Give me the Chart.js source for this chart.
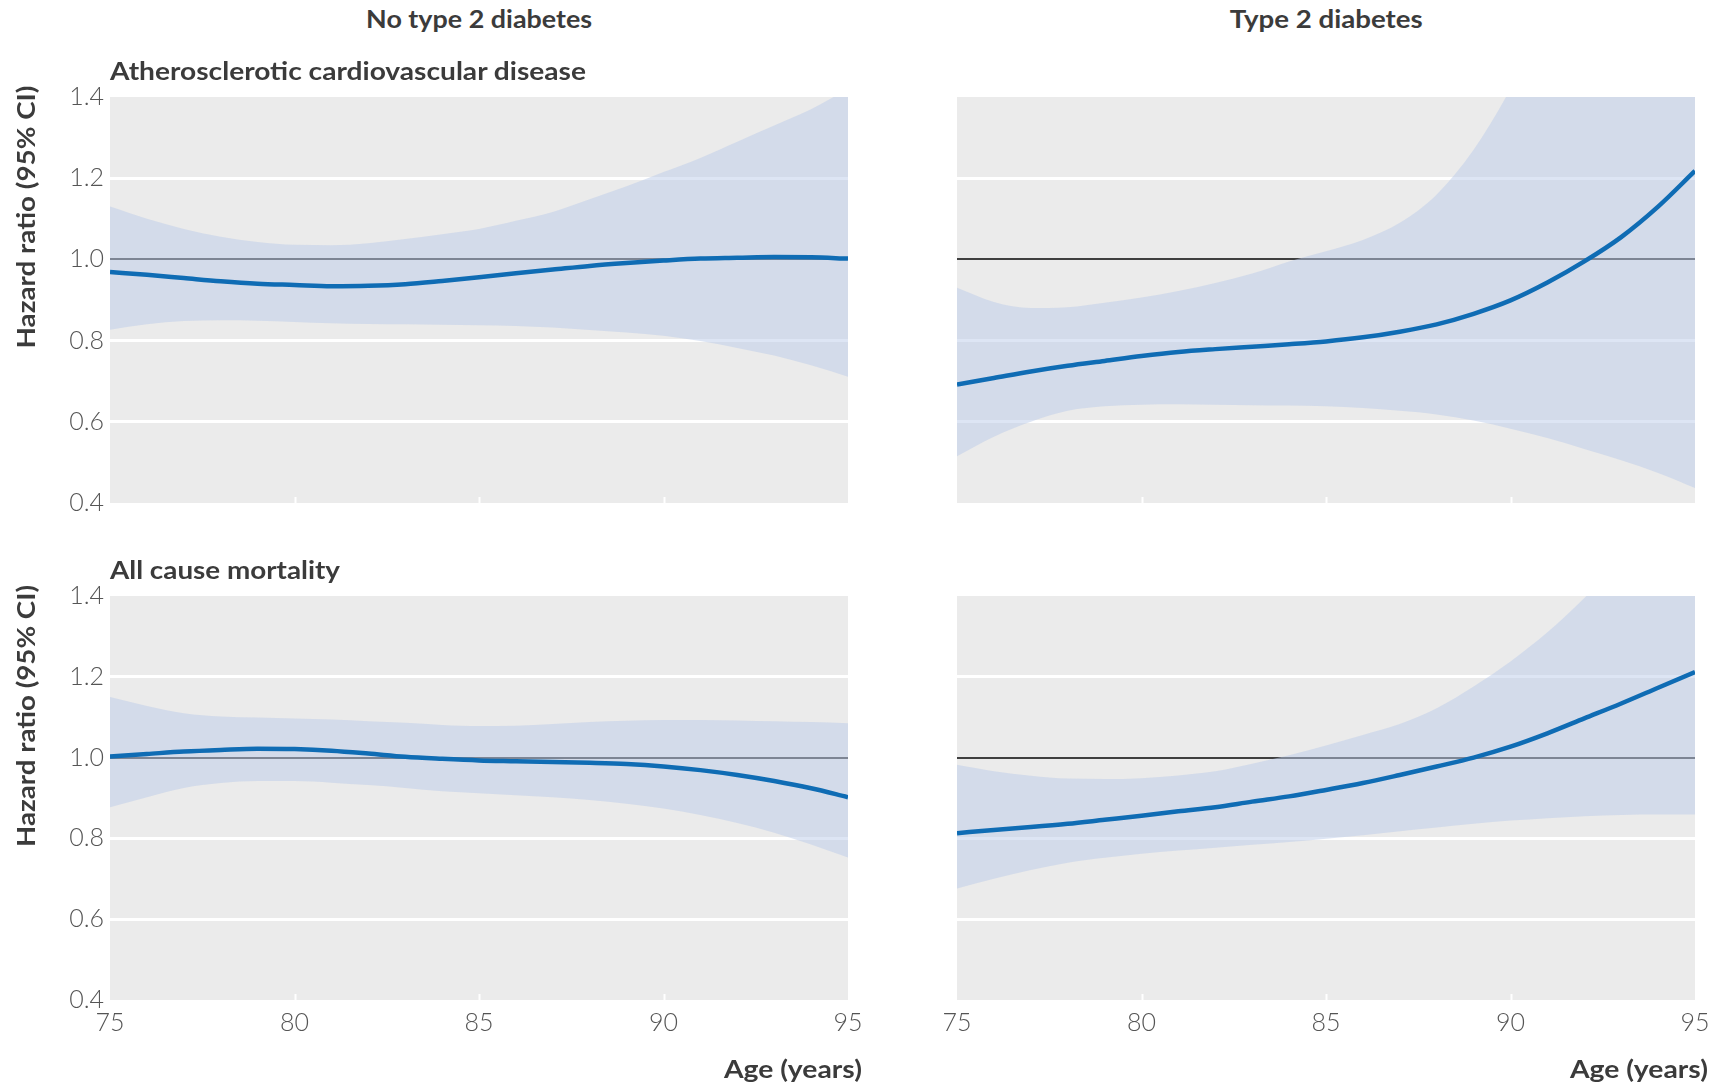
<!DOCTYPE html>
<html>
<head>
<meta charset="utf-8">
<title>Hazard ratio by age</title>
<script src="https://cdn.jsdelivr.net/npm/chart.js@4.4.1/dist/chart.umd.min.js"></script>
<style>
  html, body { margin: 0; padding: 0; background: #fff; width: 1719px; height: 1085px; overflow: hidden; }
  canvas { position: absolute; }
  .lbl { position: absolute; white-space: nowrap; font-family: Lato, "Open Sans", sans-serif; color: #3b3b3b; font-weight: 700; line-height: 1; }
</style>
</head>
<body>
<script>
// Age grid (years)
const ages = [75, 76, 77, 78, 79, 80, 81, 82, 83, 84, 85, 86, 87, 88, 89, 90, 91, 92, 93, 94, 95];

// Atherosclerotic cardiovascular disease, no type 2 diabetes
const ascvdNoT2dHR = [0.969, 0.962, 0.954, 0.946, 0.940, 0.937, 0.934, 0.935, 0.939, 0.947, 0.956, 0.966, 0.975, 0.984, 0.991, 0.997, 1.002, 1.004, 1.006, 1.005, 1.002];
const ascvdNoT2dLo = [0.827, 0.840, 0.848, 0.850, 0.849, 0.846, 0.843, 0.841, 0.840, 0.839, 0.838, 0.836, 0.832, 0.826, 0.820, 0.812, 0.799, 0.782, 0.763, 0.739, 0.711];
const ascvdNoT2dHi = [1.130, 1.100, 1.075, 1.056, 1.043, 1.036, 1.035, 1.040, 1.050, 1.062, 1.075, 1.095, 1.117, 1.148, 1.180, 1.215, 1.250, 1.290, 1.330, 1.370, 1.420];

// Atherosclerotic cardiovascular disease, type 2 diabetes
const ascvdT2dHR = [0.692, 0.708, 0.724, 0.738, 0.750, 0.762, 0.772, 0.779, 0.785, 0.791, 0.798, 0.808, 0.822, 0.840, 0.866, 0.899, 0.943, 0.995, 1.055, 1.130, 1.218];
const ascvdT2dLo = [0.515, 0.563, 0.600, 0.627, 0.638, 0.642, 0.643, 0.642, 0.641, 0.640, 0.638, 0.634, 0.627, 0.618, 0.603, 0.583, 0.560, 0.533, 0.505, 0.474, 0.437];
const ascvdT2dHi = [0.930, 0.895, 0.880, 0.882, 0.893, 0.906, 0.922, 0.942, 0.965, 0.995, 1.020, 1.048, 1.090, 1.160, 1.270, 1.420, 1.600, 1.800, 2.000, 2.200, 2.400];

// All cause mortality, no type 2 diabetes
const mortNoT2dHR = [1.003, 1.009, 1.015, 1.019, 1.022, 1.021, 1.017, 1.010, 1.002, 0.997, 0.993, 0.991, 0.989, 0.987, 0.984, 0.978, 0.969, 0.957, 0.942, 0.924, 0.902];
const mortNoT2dLo = [0.877, 0.902, 0.925, 0.937, 0.942, 0.942, 0.938, 0.932, 0.925, 0.917, 0.912, 0.907, 0.902, 0.895, 0.886, 0.874, 0.858, 0.838, 0.814, 0.785, 0.753];
const mortNoT2dHi = [1.150, 1.128, 1.110, 1.102, 1.099, 1.097, 1.094, 1.090, 1.086, 1.081, 1.078, 1.079, 1.083, 1.088, 1.091, 1.093, 1.093, 1.092, 1.090, 1.088, 1.085];

// All cause mortality, type 2 diabetes
const mortT2dHR = [0.813, 0.821, 0.828, 0.836, 0.846, 0.856, 0.867, 0.877, 0.891, 0.904, 0.920, 0.937, 0.957, 0.978, 1.000, 1.027, 1.060, 1.097, 1.134, 1.173, 1.212];
const mortT2dLo = [0.676, 0.700, 0.722, 0.740, 0.752, 0.762, 0.770, 0.777, 0.784, 0.791, 0.799, 0.808, 0.818, 0.827, 0.836, 0.844, 0.850, 0.855, 0.858, 0.859, 0.859];
const mortT2dHi = [0.982, 0.966, 0.955, 0.948, 0.947, 0.949, 0.956, 0.966, 0.985, 1.006, 1.030, 1.056, 1.083, 1.122, 1.176, 1.238, 1.310, 1.395, 1.490, 1.590, 1.700];

// Axis tick values
const xTickValues = [75, 80, 85, 90, 95];
const yTickValues = [0.4, 0.6, 0.8, 1.0, 1.2, 1.4];

// Styling
const PANEL_BG = '#ebebeb';
const BAND = 'rgba(188, 204, 234, 0.5)';
const LINE = '#0f6cb4';
const REF_LINE = '#3f3f3f';
const TICK_COLOR = '#555555';
const PANEL_W = 738;

const panelPlugin = {
  id: 'panelStyle',
  beforeDraw(chart) {
    const a = chart.chartArea, ctx = chart.ctx;
    ctx.save();
    ctx.fillStyle = PANEL_BG;
    ctx.fillRect(a.left, a.top, a.right - a.left, a.bottom - a.top);
    ctx.restore();
  },
  afterDatasetsDraw(chart) {
    const a = chart.chartArea, ctx = chart.ctx, xs = chart.scales.x;
    ctx.save();
    ctx.strokeStyle = '#ffffff';
    ctx.lineWidth = 2;
    xTickValues.slice(1, -1).forEach(v => {
      const px = Math.round(xs.getPixelForValue(v)) + 0.5;
      ctx.beginPath();
      ctx.moveTo(px, a.bottom - 6);
      ctx.lineTo(px, a.bottom);
      ctx.stroke();
    });
    ctx.restore();
  }
};

function makePanel(p) {
  const padTop = 40, yw = 80, xh = p.xTicks ? 60 : 40;
  const w = yw + PANEL_W + p.padRight, h = padTop + p.h + xh;
  const cv = document.createElement('canvas');
  cv.width = w; cv.height = h;
  cv.style.width = w + 'px'; cv.style.height = h + 'px';
  cv.style.left = (p.left - yw) + 'px';
  cv.style.top = (p.top - padTop) + 'px';
  document.body.appendChild(cv);
  const pts = arr => ages.map((a, i) => ({ x: a, y: arr[i] }));
  const base = { pointRadius: 0, cubicInterpolationMode: 'monotone', clip: 0 };
  return new Chart(cv, {
    type: 'line',
    data: {
      datasets: [
        Object.assign({ data: pts(p.hi), order: 2, fill: '+1', backgroundColor: BAND, borderWidth: 0, borderColor: 'rgba(0,0,0,0)' }, base),
        Object.assign({ data: pts(p.lo), order: 3, fill: false, borderWidth: 0, borderColor: 'rgba(0,0,0,0)' }, base),
        Object.assign({ data: pts(p.hr), order: 1, fill: false, borderWidth: 4.5, borderColor: LINE, borderCapStyle: 'butt' }, base)
      ]
    },
    options: {
      responsive: false,
      animation: false,
      devicePixelRatio: 1,
      layout: { padding: { top: padTop, right: p.padRight, left: 0, bottom: 0 } },
      plugins: { legend: { display: false }, tooltip: { enabled: false } },
      scales: {
        x: {
          type: 'linear', min: 75, max: 95,
          afterFit: s => { s.height = xh; },
          afterBuildTicks: s => { s.ticks = xTickValues.map(v => ({ value: v })); },
          grid: { display: false },
          border: { display: false },
          ticks: { display: p.xTicks, padding: 0, color: TICK_COLOR, font: { family: 'Lato', size: 25, weight: 300 } }
        },
        y: {
          type: 'linear', min: 0.4, max: 1.4,
          afterFit: s => { s.width = yw; },
          afterBuildTicks: s => { s.ticks = yTickValues.map(v => ({ value: v })); },
          border: { display: false },
          grid: {
            drawTicks: false,
            color: c => {
              const v = c.tick ? c.tick.value : 0;
              if (Math.abs(v - 1) < 1e-6) return REF_LINE;
              if (Math.abs(v - 0.4) < 1e-6 || Math.abs(v - 1.4) < 1e-6) return 'rgba(0,0,0,0)';
              return '#ffffff';
            },
            lineWidth: c => (c.tick && Math.abs(c.tick.value - 1) < 1e-6) ? 2 : 3
          },
          ticks: {
            display: p.yTicks, padding: 6, color: TICK_COLOR,
            font: { family: 'Lato', size: 25, weight: 300 },
            callback: v => Number(v).toFixed(1)
          }
        }
      }
    },
    plugins: [panelPlugin]
  });
}

const panels = [
  { left: 110, top: 97, h: 406, padRight: 30, hr: ascvdNoT2dHR, lo: ascvdNoT2dLo, hi: ascvdNoT2dHi, yTicks: true, xTicks: false },
  { left: 957, top: 97, h: 406, padRight: 22, hr: ascvdT2dHR, lo: ascvdT2dLo, hi: ascvdT2dHi, yTicks: false, xTicks: false },
  { left: 110, top: 596, h: 404, padRight: 30, hr: mortNoT2dHR, lo: mortNoT2dLo, hi: mortNoT2dHi, yTicks: true, xTicks: true },
  { left: 957, top: 596, h: 404, padRight: 22, hr: mortT2dHR, lo: mortT2dLo, hi: mortT2dHi, yTicks: false, xTicks: true }
];
panels.forEach(makePanel);

// Headings and axis titles; each is stretched to its set width
const labels = [
  { text: 'No type 2 diabetes', x: 479, y: 20, align: 'center', size: 25, width: 226 },
  { text: 'Type 2 diabetes', x: 1326, y: 20, align: 'center', size: 25, width: 193 },
  { text: 'Atherosclerotic cardiovascular disease', x: 110, y: 72, align: 'left', size: 25, width: 476 },
  { text: 'All cause mortality', x: 110, y: 571, align: 'left', size: 25, width: 230 },
  { text: 'Hazard ratio (95% CI)', x: 26, y: 217, align: 'center', size: 24, width: 263, rotate: true },
  { text: 'Hazard ratio (95% CI)', x: 26, y: 716, align: 'center', size: 24, width: 262, rotate: true },
  { text: 'Age (years)', x: 862, y: 1070, align: 'right', size: 25, width: 138 },
  { text: 'Age (years)', x: 1708, y: 1070, align: 'right', size: 25, width: 138 }
];

labels.forEach(t => {
  const el = document.createElement('div');
  el.className = 'lbl';
  el.textContent = t.text;
  el.style.fontSize = t.size + 'px';
  document.body.appendChild(el);
  const natural = el.getBoundingClientRect().width;
  const s = t.width / natural;
  const top = t.y - 0.56 * t.size;
  if (t.rotate) {
    el.style.left = (t.x - natural / 2) + 'px';
    el.style.top = (t.y - t.size / 2) + 'px';
    el.style.transformOrigin = '50% 50%';
    el.style.transform = 'rotate(-90deg) scaleX(' + s + ')';
  } else if (t.align === 'center') {
    el.style.left = (t.x - natural / 2) + 'px';
    el.style.top = top + 'px';
    el.style.transformOrigin = '50% 50%';
    el.style.transform = 'scaleX(' + s + ')';
  } else if (t.align === 'left') {
    el.style.left = t.x + 'px';
    el.style.top = top + 'px';
    el.style.transformOrigin = '0 50%';
    el.style.transform = 'scaleX(' + s + ')';
  } else {
    el.style.left = (t.x - natural) + 'px';
    el.style.top = top + 'px';
    el.style.transformOrigin = '100% 50%';
    el.style.transform = 'scaleX(' + s + ')';
  }
});
</script>
</body>
</html>
